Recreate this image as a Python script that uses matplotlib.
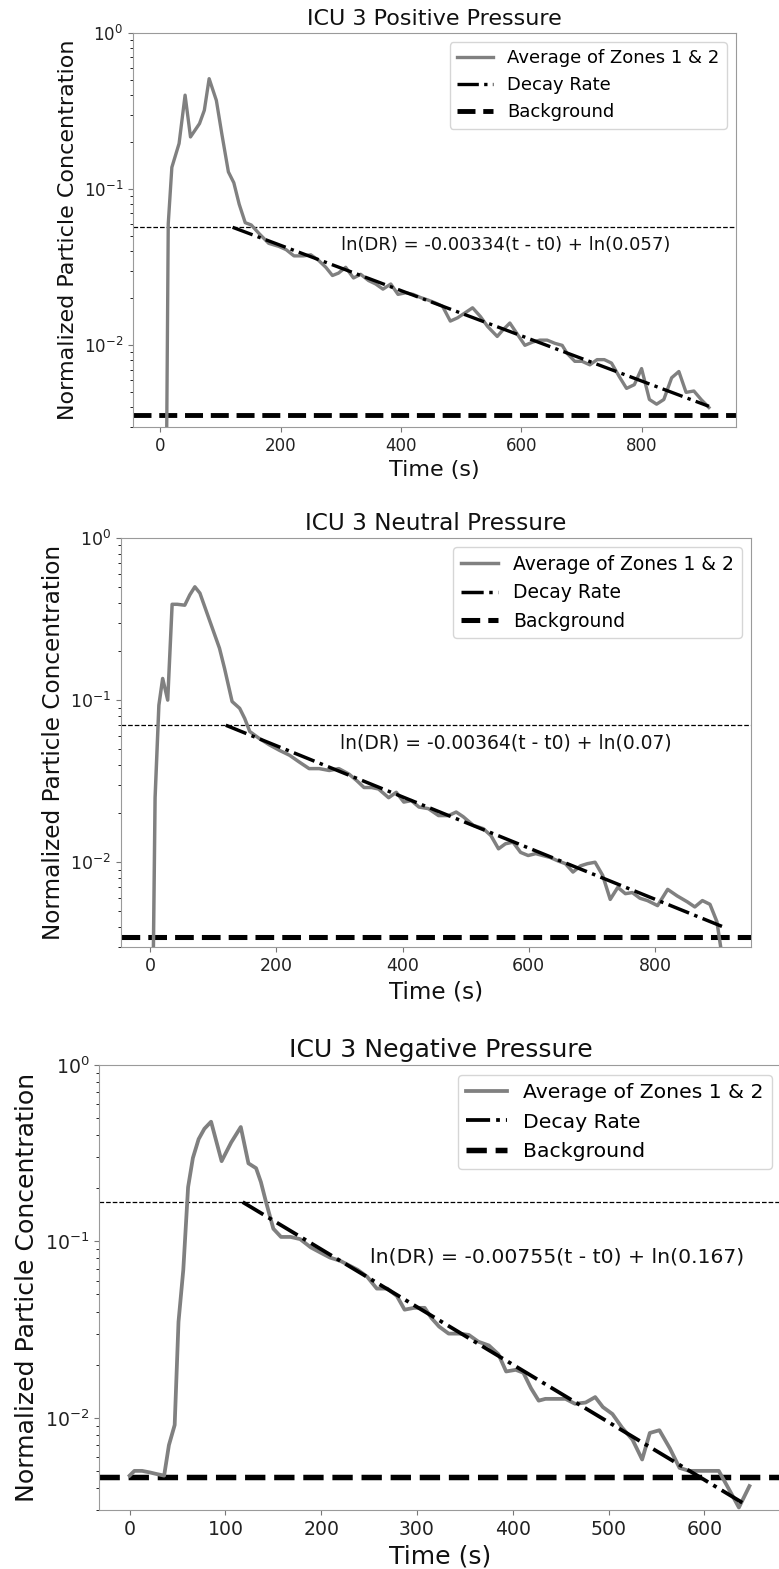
"""ICU 3 : décroissance normalisée des particules, trois régimes de pression."""
import matplotlib
matplotlib.use("Agg")
import matplotlib.pyplot as plt

OUT = "out.png"

TITLES = ["ICU 3 Positive Pressure", "ICU 3 Neutral Pressure", "ICU 3 Negative Pressure"]

# moyenne des zones 1 & 2
T_POS = [0, 9, 13, 19, 31, 41, 50, 65, 73, 81, 93, 102, 113, 122, 131, 141, 151, 164, 180,
         197, 209, 222, 238, 250, 263, 275, 286, 296, 308, 321, 333, 346, 358, 370, 383,
         395, 408, 420, 433, 445, 457, 469, 482, 494, 507, 519, 532, 544, 560, 569, 581,
         594, 606, 619, 631, 643, 656, 668, 676, 689, 701, 714, 726, 738, 750, 763, 775,
         788, 800, 813, 825, 837, 850, 862, 874, 887, 899, 912]
C_POS = [0.0005, 0.0005, 0.06, 0.138, 0.196, 0.40, 0.216, 0.263, 0.32, 0.51, 0.37, 0.227,
         0.129, 0.11, 0.08, 0.061, 0.059, 0.052, 0.045, 0.043, 0.041, 0.0374, 0.0374, 0.038,
         0.035, 0.0316, 0.028, 0.029, 0.0316, 0.027, 0.0285, 0.026, 0.0247, 0.0229, 0.0247,
         0.0212, 0.0217, 0.0212, 0.0202, 0.0195, 0.0187, 0.0178, 0.0143, 0.015, 0.0162,
         0.0174, 0.0153, 0.0132, 0.0114, 0.0125, 0.0139, 0.0117, 0.010, 0.0105, 0.0108,
         0.0108, 0.0103, 0.010, 0.0089, 0.0079, 0.0079, 0.0075, 0.0081, 0.0081, 0.0077,
         0.0063, 0.0053, 0.0056, 0.0071, 0.0045, 0.0042, 0.0045, 0.0062, 0.0068, 0.005,
         0.0051, 0.0045, 0.004]

T_NEU = [0, 4, 8, 14, 20, 28, 35, 43, 55, 63, 71, 79, 95, 110, 118, 130, 142, 150, 158, 173,
         189, 205, 221, 236, 252, 268, 284, 299, 315, 327, 339, 351, 362, 378, 390, 402, 414,
         426, 441, 457, 473, 485, 496, 512, 528, 540, 552, 563, 575, 587, 599, 611, 622, 634,
         646, 658, 670, 682, 693, 705, 717, 729, 741, 753, 764, 776, 788, 804, 820, 835, 851,
         863, 875, 887, 898, 907]
C_NEU = [0.001, 0.001, 0.025, 0.093, 0.136, 0.10, 0.39, 0.39, 0.385, 0.446, 0.50, 0.457,
         0.305, 0.209, 0.157, 0.098, 0.089, 0.077, 0.064, 0.058, 0.053, 0.049, 0.0457, 0.0416,
         0.0378, 0.0378, 0.0368, 0.0378, 0.035, 0.032, 0.0289, 0.0289, 0.0283, 0.025, 0.027,
         0.0235, 0.024, 0.0219, 0.0214, 0.0194, 0.0194, 0.0204, 0.0191, 0.0169, 0.0161,
         0.0146, 0.0121, 0.013, 0.0133, 0.0115, 0.011, 0.0113, 0.011, 0.0107, 0.0102, 0.0098,
         0.0087, 0.0095, 0.0098, 0.010, 0.0083, 0.0059, 0.007, 0.0064, 0.0065, 0.006, 0.0058,
         0.0054, 0.0068, 0.0062, 0.0057, 0.0053, 0.0058, 0.0055, 0.0043, 0.0025]

T_NEG = [0, 5, 13, 21, 28, 36, 41, 47, 51, 56, 61, 66, 72, 78, 85, 96, 106, 116, 124, 132,
         137, 142, 150, 158, 168, 178, 189, 199, 209, 220, 227, 238, 248, 258, 269, 279, 287,
         297, 308, 315, 323, 333, 344, 354, 364, 375, 385, 393, 403, 411, 419, 427, 434, 445,
         455, 465, 476, 486, 494, 504, 514, 525, 535, 543, 553, 564, 574, 584, 595, 605, 615,
         626, 636, 647]
C_NEG = [0.0047, 0.005, 0.005, 0.0049, 0.0048, 0.0047, 0.007, 0.0091, 0.035, 0.069, 0.203,
         0.297, 0.38, 0.435, 0.477, 0.285, 0.364, 0.445, 0.277, 0.26, 0.217, 0.17, 0.118,
         0.106, 0.106, 0.103, 0.0925, 0.0865, 0.081, 0.0775, 0.0741, 0.069, 0.063, 0.054,
         0.054, 0.049, 0.041, 0.042, 0.042, 0.0368, 0.0329, 0.030, 0.030, 0.0295, 0.027,
         0.0257, 0.0229, 0.0183, 0.0187, 0.018, 0.0147, 0.0125, 0.0128, 0.0128, 0.0128, 0.012,
         0.0122, 0.0131, 0.0115, 0.0105, 0.0088, 0.0075, 0.0058, 0.0082, 0.0085, 0.0067,
         0.0052, 0.005, 0.005, 0.005, 0.005, 0.0039, 0.0031, 0.0041]

BACKGROUND = [0.0036, 0.00346, 0.00462]
THRESHOLD = [0.057, 0.07, 0.167]
# extrémités de la droite de décroissance (t0 -> fin)
DECAY_T = [(120, 912), (120, 906), (118, 645)]
DECAY_C = [(0.057, 0.00407), (0.07, 0.00402), (0.167, 0.00317)]
EQUATIONS = ["ln(DR) = -0.00334(t - t0) + ln(0.057)",
             "ln(DR) = -0.00364(t - t0) + ln(0.07)",
             "ln(DR) = -0.00755(t - t0) + ln(0.167)"]
EQ_POS = [(300, 0.044), (301, 0.054), (251, 0.082)]

SERIES = [(T_POS, C_POS), (T_NEU, C_NEU), (T_NEG, C_NEG)]

# cadres des axes en pixels (gauche, haut, droite, bas) sur une image 779x1569
W, H = 779, 1569
BOXES = [(133, 33, 736, 427), (121, 538, 751, 947), (99, 1065, 782, 1510)]
XLIMS = [(-45.6, 957), (-46, 952), (-32, 681)]
SCALE = [1.0, 1.04, 1.13]

GRIS = "#808080"

fig = plt.figure(figsize=(W / 100, H / 100), dpi=100)
for i in range(3):
    l, t, r, b = BOXES[i]
    ax = fig.add_axes([l / W, 1 - b / H, (r - l) / W, (b - t) / H])
    s = SCALE[i]
    tt, cc = SERIES[i]
    ax.plot(tt, cc, color=GRIS, lw=2.4 * s, label="Average of Zones 1 & 2", zorder=3)
    ax.plot(DECAY_T[i], DECAY_C[i], "-.", color="black", lw=2.4 * s, label="Decay Rate", zorder=4)
    ax.axhline(BACKGROUND[i], ls="--", color="black", lw=3.5 * s, label="Background", zorder=2)
    ax.axhline(THRESHOLD[i], ls="--", color="black", lw=0.9, zorder=2)
    ax.text(EQ_POS[i][0], EQ_POS[i][1], EQUATIONS[i], fontsize=13 * s,
            ha="left", va="center", color="#111111")
    ax.set_yscale("log")
    ax.set_ylim(0.003, 1)
    ax.set_xlim(*XLIMS[i])
    if i < 2:
        ax.set_xticks([0, 200, 400, 600, 800])
    else:
        ax.set_xticks([0, 100, 200, 300, 400, 500, 600])
    ax.set_title(TITLES[i], fontsize=16 * s, color="#111111")
    ax.set_xlabel("Time (s)", fontsize=16 * s, color="#111111")
    ax.set_ylabel("Normalized Particle Concentration", fontsize=16 * s, color="#111111")
    ax.tick_params(labelsize=12 * s, colors="#777777", labelcolor="#222222")
    for sp in ax.spines.values():
        sp.set_color("#9a9a9a")
    ax.legend(loc="upper right", fontsize=13 * s)

fig.savefig(OUT, dpi=100)
